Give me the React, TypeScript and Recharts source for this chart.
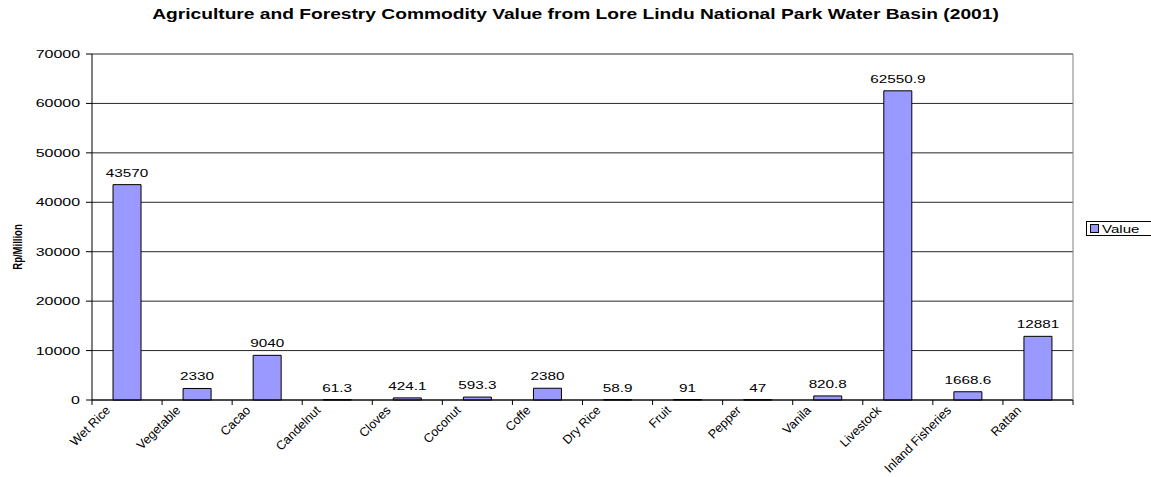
import React from 'react';
import { BarChart, Bar, XAxis, YAxis, CartesianGrid, LabelList, Legend } from 'recharts';

const categories = [
  'Wet Rice',
  'Vegetable',
  'Cacao',
  'Candelnut',
  'Cloves',
  'Coconut',
  'Coffe',
  'Dry Rice',
  'Fruit',
  'Pepper',
  'Vanila',
  'Livestock',
  'Inland Fisheries',
  'Rattan',
];
const values = [43570, 2330, 9040, 61.3, 424.1, 593.3, 2380, 58.9, 91, 47, 820.8, 62550.9, 1668.6, 12881];
const yTicks = [0, 10000, 20000, 30000, 40000, 50000, 60000, 70000];

const data = categories.map((name, i) => ({ name, value: values[i] }));

const FONT = '"Liberation Sans", Arial, sans-serif';
const STRETCH = 1.37;

const YTick = (props: any) => {
  const { x, y, payload } = props;
  return (
    <text
      transform={`translate(${x},${y}) scale(1.45,1)`}
      textAnchor="end"
      dy="0.36em"
      fontSize={11}
      fontFamily={FONT}
      fill="#000"
    >
      {payload.value}
    </text>
  );
};

// category labels sit at 45°, tick marks fall between categories
const XTick = (props: any) => {
  const { x, y, payload, index, visibleTicksCount } = props;
  const half = payload.offset || 35;
  const last = index === visibleTicksCount - 1;
  return (
    <g>
      <line x1={x - half} y1={y} x2={x - half} y2={y + 5} stroke="#000" />
      {last && <line x1={x + half} y1={y} x2={x + half} y2={y + 5} stroke="#000" />}
      <text
        transform={`translate(${x - 16},${y + 11}) rotate(-45)`}
        textAnchor="end"
        fontSize={12.5}
        fontFamily={FONT}
        fill="#000"
      >
        {payload.value}
      </text>
    </g>
  );
};

const ValueLabel = (props: any) => {
  const { x, y, width, value } = props;
  return (
    <text
      transform={`translate(${x + width / 2},${y - 8}) scale(1.33,1)`}
      textAnchor="middle"
      fontSize={11.5}
      fontFamily={FONT}
      fill="#000"
    >
      {value}
    </text>
  );
};

const LegendBox = (props: any) => {
  const item = props.payload?.[0];
  return (
    <div
      style={{
        border: '1px solid #000',
        background: '#fff',
        display: 'flex',
        alignItems: 'center',
        width: 70,
        height: 15,
        paddingLeft: 3,
        boxSizing: 'border-box',
        fontFamily: FONT,
        fontSize: 11,
        whiteSpace: 'nowrap',
      }}
    >
      <span
        style={{
          width: 7,
          height: 7,
          background: item?.color ?? '#9999FF',
          border: '1px solid #000',
          marginRight: 3,
          flex: 'none',
        }}
      />
      <span style={{ display: 'inline-block', transform: `scaleX(${STRETCH})`, transformOrigin: 'left center' }}>
        {item?.value ?? 'Value'}
      </span>
    </div>
  );
};

export default function App() {
  return (
    <div style={{ position: 'absolute', left: 0, top: 0, width: 1151, height: 477, background: '#fff', overflow: 'hidden' }}>
      <div
        style={{
          position: 'absolute',
          left: 0,
          top: 6,
          width: 1151,
          textAlign: 'center',
          fontFamily: FONT,
          fontWeight: 'bold',
          fontSize: 14,
          transform: `scaleX(${STRETCH})`,
          transformOrigin: 'center',
          color: '#000',
        }}
      >
        Agriculture and Forestry Commodity Value from Lore Lindu National Park Water Basin (2001)
      </div>
      <div
        style={{
          position: 'absolute',
          left: 17,
          top: 247,
          fontFamily: FONT,
          fontWeight: 'bold',
          fontSize: 9.5,
          whiteSpace: 'nowrap',
          transform: `translate(-50%,-50%) scaleX(1.3) rotate(-90deg)`,
          color: '#000',
        }}
      >
        Rp/Million
      </div>
      <BarChart
        width={1151}
        height={477}
        data={data}
        margin={{ top: 54, right: 77, bottom: 0, left: 0 }}
        barCategoryGap="30%"
      >
        <CartesianGrid horizontal vertical={false} stroke="#000" strokeOpacity={0.85} />
        <XAxis
          dataKey="name"
          height={77}
          interval={0}
          tickSize={0}
          tickMargin={0}
          tick={<XTick />}
          axisLine={{ stroke: '#000' }}
        />
        <YAxis
          width={92}
          domain={[0, 70000]}
          ticks={yTicks}
          tickSize={6}
          tickMargin={6}
          tick={<YTick />}
          axisLine={{ stroke: '#000' }}
          tickLine={{ stroke: '#000' }}
        />
        <YAxis
          yAxisId="frame"
          orientation="right"
          width={1}
          domain={[0, 70000]}
          tick={false}
          tickLine={false}
          axisLine={{ stroke: '#808080' }}
        />
        <Legend
          layout="horizontal"
          verticalAlign="middle"
          align="center"
          content={<LegendBox />}
          wrapperStyle={{ left: 1086, top: 221, width: 'auto' }}
        />
        <Bar dataKey="value" name="Value" fill="#9999FF" stroke="#000" strokeWidth={1} isAnimationActive={false}>
          <LabelList dataKey="value" content={<ValueLabel />} />
        </Bar>
      </BarChart>
    </div>
  );
}
